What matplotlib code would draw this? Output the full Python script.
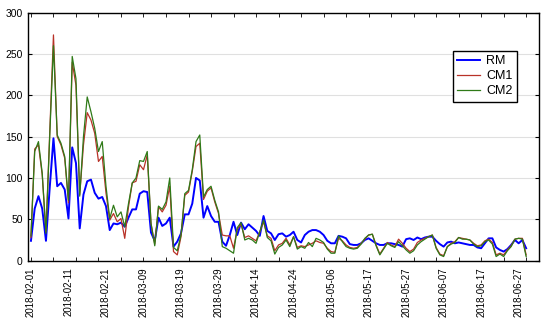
#!/usr/bin/env python3

import numpy as np
import matplotlib
matplotlib.use( 'Agg' )
import matplotlib.pyplot as plt

plt.rcParams['font.family'] = [ 'Liberation Sans', 'DejaVu Sans' ]

# tick labels, one every 10 samples
dates = [ '2018-02-01', '2018-02-11', '2018-02-21', '2018-03-09', '2018-03-19',
          '2018-03-29', '2018-04-14', '2018-04-24', '2018-05-06', '2018-05-17',
          '2018-05-27', '2018-06-07', '2018-06-17', '2018-06-27' ]

rm = [ 24, 63, 78, 63, 24, 88, 148, 90, 94, 86,
       51, 137, 118, 39, 80, 96, 98, 82, 75, 77,
       66, 37, 45, 44, 46, 41, 52, 62, 62, 81,
       84, 83, 34, 24, 52, 42, 45, 52, 17, 23,
       33, 56, 56, 69, 100, 97, 52, 66, 54, 47,
       47, 23, 18, 31, 47, 31, 46, 38, 44, 40,
       36, 30, 54, 36, 33, 25, 32,
       33, 29, 31, 35, 25, 22, 31, 35, 37, 37,
       35, 31, 24, 21, 21, 30, 29, 27, 20, 19,
       19, 21, 25, 27, 24, 21, 19, 19, 21, 21,
       20, 19, 17, 26, 27, 25, 28, 26, 28, 29,
       29, 24, 20, 17, 22, 23, 21, 22, 21, 20,
       19, 19, 16, 15, 21, 27, 27, 16, 13, 11,
       14, 19, 25, 21, 25, 15 ]

cm1 = [ 28, 135, 140, 104, 35, 155, 273, 150, 140, 124,
        70, 240, 212, 80, 140, 179, 170, 154, 120, 126,
        82, 49, 57, 47, 51, 27, 65, 94, 96, 116,
        110, 128, 45, 20, 65, 59, 67, 90, 11, 7,
        29, 79, 83, 108, 138, 142, 74, 84, 88, 71,
        57, 31, 30, 30, 15, 38, 44, 28, 30, 27,
        24, 35, 47, 30, 27, 12, 19,
        21, 27, 19, 29, 16, 18, 17, 19, 21, 24,
        22, 21, 15, 11, 10, 27, 24, 19, 16, 15,
        16, 21, 26, 31, 32, 19, 8, 15, 22, 19,
        17, 26, 21, 15, 11, 14, 22, 25, 27, 29,
        31, 16, 8, 6, 17, 21, 23, 28, 27, 26,
        25, 21, 18, 19, 24, 26, 22, 7, 9, 7,
        13, 18, 26, 27, 27, 7 ]

cm2 = [ 30, 132, 144, 106, 33, 150, 260, 152, 142, 126,
        73, 247, 220, 78, 150, 198, 180, 160, 132, 144,
        90, 51, 67, 53, 59, 41, 69, 94, 100, 121,
        120, 132, 45, 18, 66, 62, 71, 100, 16, 12,
        31, 81, 85, 110, 144, 152, 77, 86, 90, 73,
        59, 17, 15, 12, 9, 40, 46, 25, 27, 25,
        21, 35, 49, 28, 24, 8, 16,
        19, 25, 17, 29, 14, 17, 15, 22, 17, 27,
        25, 22, 14, 9, 9, 30, 23, 17, 15, 14,
        15, 20, 27, 31, 32, 18, 7, 14, 21, 18,
        16, 23, 18, 13, 9, 12, 19, 23, 26, 29,
        31, 15, 7, 5, 17, 20, 22, 28, 26, 26,
        25, 20, 17, 18, 23, 25, 20, 5, 8, 5,
        12, 17, 26, 27, 26, 5 ]

x = np.arange( len( rm ) )

fig = plt.figure( figsize = ( 5.5, 3.23 ), dpi = 100 )
ax = fig.add_axes( [ 0.0515, 0.193, 0.929, 0.768 ] )

ax.plot( x, rm,  c = '#0000ff', lw = 1.4, label = 'RM' )
ax.plot( x, cm1, c = '#b83228', lw = 0.9, label = 'CM1' )
ax.plot( x, cm2, c = '#2f7a18', lw = 0.9, label = 'CM2' )

ax.set_xlim( -0.7, 135.5 )
ax.set_ylim( 0, 300 )
ax.set_yticks( np.arange( 0, 301, 50 ) )

# labels every 10 samples (no mark), tick marks every 6 samples
ax.xaxis.remove_overlapping_locs = False
ax.set_xticks( np.arange( 0, 10 * len( dates ), 10 ) )
ax.set_xticklabels( dates, rotation = 90, fontsize = 7 )
ax.set_xticks( np.arange( 0, len( rm ), 6 ), minor = True )
ax.tick_params( axis = 'x', which = 'major', length = 0, pad = 5 )
ax.tick_params( axis = 'x', which = 'minor', direction = 'in', length = 3,
                top = True, bottom = True )
ax.tick_params( axis = 'y', direction = 'in', length = 3, right = True,
                labelsize = 7.5, pad = 4 )

ax.yaxis.grid( True, color = '#e0e0e0', lw = 0.8 )
ax.set_axisbelow( True )
for sp in ax.spines.values():
    sp.set_linewidth( 1.0 )

leg = ax.legend( loc = 'upper right', bbox_to_anchor = ( 0.956, 0.846 ),
                 borderaxespad = 0, fontsize = 9, fancybox = False,
                 edgecolor = 'black', framealpha = 1, handlelength = 1.8,
                 borderpad = 0.35, labelspacing = 0.25, handletextpad = 0.5 )
leg.get_frame().set_linewidth( 1.0 )

fig.savefig( 'out.png', dpi = 100 )
